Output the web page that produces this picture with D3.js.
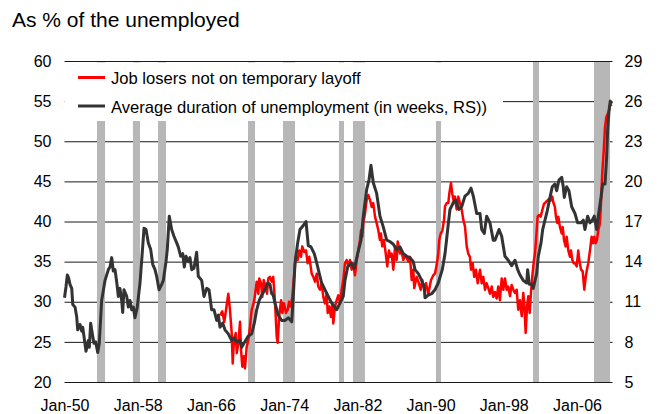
<!DOCTYPE html>
<html>
<head>
<meta charset="utf-8">
<script src="https://cdn.jsdelivr.net/npm/d3@7"></script>
<style>
body{margin:0;background:#fff;}
svg{display:block;font-family:"Liberation Sans",Arial,sans-serif;}
</style>
</head>
<body>
<svg id="fig" width="659" height="414"></svg>
<script>
// axis ticks
const xTickYears = [1950, 1958, 1966, 1974, 1982, 1990, 1998, 2006];
const leftTicks = [20, 25, 30, 35, 40, 45, 50, 55, 60];
const rightTicks = [5, 8, 11, 14, 17, 20, 23, 26, 29];

// recession periods, [start, end] in decimal years
const recessions = [
    [1953.55, 1954.43], [1957.48, 1958.25], [1960.22, 1961.09], [1970.05, 1970.82],
    [1973.88, 1975.19], [1979.99, 1980.54], [1981.52, 1982.83], [1990.59, 1991.14],
    [2001.19, 2001.85], [2007.86, 2009.61]
];

// job losers not on temporary layoff, % of unemployed (left scale)
const jobLosers = [
    [1967.00,28.3],[1967.24,28.8],[1967.46,27.5],[1967.65,29.0],[1967.90,31.0],[1968.08,29.0],[1968.27,26.1],[1968.38,22.3],
    [1968.52,25.2],[1968.71,26.1],[1968.82,23.6],[1968.99,24.8],[1969.18,27.5],[1969.29,24.0],[1969.43,21.9],[1969.58,23.2],
    [1969.72,21.7],[1969.91,24.4],[1970.08,25.2],[1970.27,26.9],[1970.45,29.0],[1970.56,29.4],[1970.74,30.2],[1970.89,31.5],
    [1971.00,32.5],[1971.18,31.0],[1971.28,32.9],[1971.47,32.3],[1971.61,30.6],[1971.77,32.7],[1971.98,31.9],[1972.13,31.0],
    [1972.27,32.9],[1972.45,33.1],[1972.64,32.5],[1972.81,33.1],[1973.00,30.0],[1973.19,25.6],[1973.30,24.9],[1973.45,28.1],
    [1973.67,30.2],[1973.80,28.6],[1973.98,29.8],[1974.20,28.6],[1974.39,29.0],[1974.53,30.0],[1974.72,29.4],[1974.89,30.6],
    [1975.08,33.1],[1975.26,35.6],[1975.48,35.2],[1975.66,36.4],[1975.84,35.6],[1975.98,36.9],[1976.20,36.2],[1976.39,36.4],
    [1976.57,34.8],[1976.75,35.6],[1977.01,33.5],[1977.19,33.1],[1977.37,32.5],[1977.56,33.5],[1977.73,31.9],[1977.92,31.5],
    [1978.10,32.3],[1978.28,30.6],[1978.46,29.8],[1978.65,31.0],[1978.76,28.6],[1978.93,29.4],[1979.12,28.1],[1979.26,29.8],
    [1979.37,27.3],[1979.56,29.4],[1979.74,30.2],[1979.92,30.8],[1980.10,29.8],[1980.29,31.5],[1980.46,32.7],[1980.65,34.8],
    [1980.83,35.2],[1981.01,34.4],[1981.19,35.2],[1981.38,34.0],[1981.56,34.8],[1981.74,33.3],[1981.93,35.2],[1982.10,36.4],
    [1982.29,37.7],[1982.40,38.9],[1982.54,38.1],[1982.65,39.8],[1982.84,41.0],[1983.02,42.7],[1983.19,43.3],[1983.38,42.7],
    [1983.57,41.8],[1983.74,42.3],[1983.93,40.6],[1984.11,39.8],[1984.29,38.9],[1984.47,37.7],[1984.58,38.5],[1984.72,36.9],
    [1984.91,37.7],[1985.10,36.0],[1985.27,34.4],[1985.46,36.4],[1985.57,35.6],[1985.75,36.0],[1985.93,34.0],[1986.12,36.9],
    [1986.30,35.2],[1986.41,37.5],[1986.66,36.0],[1986.84,36.2],[1987.02,35.2],[1987.28,35.8],[1987.57,35.0],[1987.75,35.6],
    [1987.94,32.7],[1988.11,34.0],[1988.22,31.7],[1988.48,33.1],[1988.66,32.5],[1988.92,31.5],[1989.09,32.7],[1989.31,31.5],
    [1989.50,32.3],[1989.75,31.0],[1990.05,32.7],[1990.30,33.3],[1990.48,33.5],[1990.67,34.6],[1990.84,36.0],[1990.95,37.7],
    [1991.11,38.5],[1991.28,38.8],[1991.47,40.2],[1991.58,41.9],[1991.76,42.3],[1991.94,42.3],[1992.05,43.5],[1992.23,44.8],
    [1992.37,43.5],[1992.56,42.3],[1992.67,43.1],[1992.85,41.5],[1993.03,43.1],[1993.21,42.3],[1993.40,41.5],[1993.58,40.2],
    [1993.76,39.4],[1993.95,36.9],[1994.12,36.0],[1994.30,35.6],[1994.42,34.0],[1994.60,34.8],[1994.77,33.1],[1994.96,34.0],
    [1995.15,32.3],[1995.40,34.0],[1995.59,32.3],[1995.76,33.1],[1995.95,31.5],[1996.13,32.3],[1996.31,31.7],[1996.49,31.0],
    [1996.68,31.9],[1996.85,30.6],[1997.04,31.2],[1997.22,30.4],[1997.40,31.9],[1997.58,30.2],[1997.77,32.9],[1997.95,31.5],
    [1998.13,32.9],[1998.32,31.5],[1998.49,31.9],[1998.68,30.7],[1998.86,32.1],[1999.04,31.5],[1999.22,31.1],[1999.41,31.5],
    [1999.58,29.0],[1999.77,30.2],[1999.96,28.2],[2000.13,31.1],[2000.24,29.8],[2000.39,26.1],[2000.54,29.4],[2000.68,30.7],
    [2000.83,28.6],[2000.97,31.1],[2001.11,33.1],[2001.30,35.2],[2001.41,36.0],[2001.55,38.1],[2001.70,40.6],[2001.85,40.8],
    [2002.03,40.6],[2002.21,41.4],[2002.39,42.2],[2002.58,42.4],[2002.75,42.6],[2002.94,42.8],[2003.12,42.6],[2003.30,43.1],
    [2003.41,42.4],[2003.59,41.8],[2003.70,40.6],[2003.85,39.8],[2003.96,40.6],[2004.14,39.3],[2004.33,38.5],[2004.44,39.3],
    [2004.58,37.7],[2004.76,36.9],[2004.87,38.1],[2005.05,36.4],[2005.23,35.6],[2005.34,36.4],[2005.49,35.2],[2005.64,34.8],
    [2005.78,34.8],[2005.97,34.4],[2006.14,36.4],[2006.25,35.2],[2006.44,34.0],[2006.62,33.8],[2006.80,31.5],[2006.95,33.1],
    [2007.09,34.0],[2007.23,34.8],[2007.42,36.4],[2007.60,38.1],[2007.75,37.3],[2007.89,38.1],[2008.04,37.3],[2008.18,37.7],
    [2008.33,38.9],[2008.51,39.8],[2008.62,42.2],[2008.76,46.0],[2008.92,48.8],[2009.06,51.7],[2009.20,53.0],[2009.35,53.4],
    [2009.50,53.8],[2009.64,54.6],[2009.79,54.4]
];

// average duration of unemployment, weeks (right scale)
const avgDuration = [
    [1950.00,11.3],[1950.16,12.1],[1950.31,13.0],[1950.44,12.8],[1950.60,12.3],[1950.79,12.0],[1950.90,10.8],[1951.15,10.6],
    [1951.33,9.9],[1951.44,8.9],[1951.69,9.3],[1951.88,8.8],[1951.99,9.1],[1952.13,8.4],[1952.35,7.3],[1952.60,8.1],
    [1952.71,7.6],[1952.86,9.4],[1953.04,8.6],[1953.22,7.9],[1953.41,8.0],[1953.63,7.2],[1953.80,7.9],[1954.06,11.1],
    [1954.43,12.6],[1954.79,13.4],[1954.97,13.6],[1955.16,14.3],[1955.33,13.3],[1955.52,13.4],[1955.70,12.5],[1955.88,11.4],
    [1956.06,12.0],[1956.25,11.1],[1956.36,10.2],[1956.50,11.9],[1956.80,11.4],[1956.97,10.6],[1957.16,11.1],[1957.34,10.4],
    [1957.52,10.6],[1957.70,9.8],[1957.95,10.6],[1958.25,12.4],[1958.50,14.7],[1958.69,16.5],[1958.91,16.4],[1959.16,15.4],
    [1959.42,14.9],[1959.64,13.8],[1959.89,13.4],[1960.07,12.9],[1960.33,11.9],[1960.62,12.3],[1960.80,12.6],[1961.09,14.0],
    [1961.23,14.9],[1961.45,17.4],[1961.71,16.4],[1961.96,15.9],[1962.26,15.4],[1962.43,15.1],[1962.70,14.4],[1962.92,14.6],
    [1963.09,13.6],[1963.28,14.4],[1963.53,14.0],[1963.71,14.3],[1963.90,13.4],[1964.15,13.5],[1964.44,14.7],[1964.62,12.9],
    [1964.99,12.6],[1965.24,11.4],[1965.54,12.0],[1965.79,11.9],[1966.08,10.4],[1966.34,10.4],[1966.63,9.6],[1966.81,10.0],
    [1966.99,9.1],[1967.29,9.4],[1967.54,8.9],[1967.90,8.6],[1968.27,8.1],[1968.52,8.3],[1968.82,8.0],[1969.18,8.1],
    [1969.36,7.6],[1969.61,7.9],[1970.05,8.4],[1970.45,8.6],[1970.74,9.4],[1971.00,10.4],[1971.28,11.1],[1971.55,11.5],
    [1971.91,11.9],[1972.20,12.4],[1972.45,12.3],[1972.64,11.6],[1972.81,11.5],[1973.00,10.9],[1973.36,10.0],[1973.73,9.6],
    [1974.09,9.6],[1974.45,9.8],[1974.83,9.5],[1975.00,11.4],[1975.19,13.9],[1975.48,15.4],[1975.73,16.4],[1976.09,16.7],
    [1976.39,17.0],[1976.64,15.2],[1976.93,15.1],[1977.29,14.6],[1977.56,13.9],[1977.84,13.1],[1978.10,12.4],[1978.46,11.9],
    [1978.82,11.4],[1979.20,10.9],[1979.56,10.6],[1979.74,10.4],[1980.10,10.9],[1980.46,11.4],[1980.65,12.6],[1980.94,13.6],
    [1981.30,13.9],[1981.67,13.5],[1982.04,14.6],[1982.40,15.6],[1982.65,17.4],[1983.02,19.4],[1983.27,20.1],[1983.49,21.2],
    [1983.74,19.9],[1984.11,19.1],[1984.47,17.4],[1984.83,16.6],[1985.21,15.6],[1985.57,15.5],[1985.93,15.3],[1986.30,14.9],
    [1986.66,15.1],[1987.02,14.6],[1987.39,14.4],[1987.75,14.3],[1988.11,14.0],[1988.30,13.4],[1988.66,13.1],[1989.03,12.6],
    [1989.31,12.1],[1989.39,11.3],[1989.75,11.5],[1990.12,11.6],[1990.48,11.9],[1990.84,12.4],[1991.28,13.4],[1991.58,14.6],
    [1991.87,16.4],[1992.12,17.9],[1992.48,18.4],[1992.74,18.6],[1993.11,17.9],[1993.40,18.1],[1993.76,18.9],[1994.12,19.1],
    [1994.42,19.5],[1994.67,18.9],[1995.04,17.6],[1995.40,17.6],[1995.59,16.4],[1995.87,16.1],[1996.13,17.4],[1996.49,16.9],
    [1996.85,15.6],[1997.04,15.6],[1997.48,16.4],[1997.77,15.9],[1998.13,14.4],[1998.49,14.1],[1998.86,13.7],[1999.22,14.1],
    [1999.52,13.4],[1999.77,13.0],[2000.13,12.6],[2000.50,12.4],[2000.61,13.4],[2000.79,12.3],[2001.05,12.3],[2001.22,12.0],
    [2001.59,13.1],[2001.77,14.4],[2002.07,15.4],[2002.25,16.4],[2002.50,17.1],[2002.75,17.8],[2003.05,18.8],[2003.30,19.6],
    [2003.59,19.8],[2003.78,19.3],[2004.03,20.1],[2004.33,20.3],[2004.50,19.6],[2004.61,18.8],[2004.87,19.6],[2005.12,19.3],
    [2005.42,18.1],[2005.78,17.6],[2006.07,16.9],[2006.44,16.9],[2006.69,17.1],[2006.87,16.4],[2007.17,17.4],[2007.42,16.9],
    [2007.67,17.1],[2007.89,17.4],[2008.15,16.4],[2008.33,17.4],[2008.62,18.8],[2008.81,19.8],[2009.06,19.8],[2009.24,21.8],
    [2009.35,23.8],[2009.50,25.3],[2009.64,26.0],[2009.79,25.8]
];

const legendItems = [
    {label: "Job losers not on temporary layoff", color: "#ff0000"},
    {label: "Average duration of unemployment (in weeks, RS))", color: "#333333"}
];

const svg = d3.select("#fig");
const plot = {left: 64.5, right: 612.5, top: 61, bottom: 382};
const plotWidth = plot.right - plot.left;

let xScale = d3.scaleLinear().domain([1950, 2009.88]).range([plot.left, plot.right]);
let yLeft = d3.scaleLinear().domain([20, 60]).range([plot.bottom, plot.top]);
let yRight = d3.scaleLinear().domain([5, 29]).range([plot.bottom, plot.top]);

// title
svg.append("text")
    .attr("x", 12).attr("y", 27)
    .attr("font-size", 21)
    .text("As % of the unemployed");

// horizontal gridlines
svg.append("g")
    .attr("transform", `translate(${plot.left},0)`)
    .call(d3.axisLeft(yLeft).tickValues(leftTicks).tickSize(-plotWidth).tickFormat(""))
    .call(g => g.select(".domain").remove())
    .selectAll("line").attr("stroke", "#1a1a1a");

// recession bars
svg.append("g").selectAll("rect")
    .data(recessions)
    .join("rect")
    .attr("x", d => xScale(d[0]))
    .attr("width", d => xScale(d[1]) - xScale(d[0]))
    .attr("y", plot.top + 1)
    .attr("height", plot.bottom - plot.top - 1)
    .attr("fill", "#b7b7b7");

// series
const lineLeft = d3.line().x(d => xScale(d[0])).y(d => yLeft(d[1]));
const lineRight = d3.line().x(d => xScale(d[0])).y(d => yRight(d[1]));

svg.append("path").datum(jobLosers)
    .attr("d", lineLeft)
    .attr("fill", "none").attr("stroke", "#ff0000")
    .attr("stroke-width", 2.5).attr("stroke-linejoin", "round");

svg.append("path").datum(avgDuration)
    .attr("d", lineRight)
    .attr("fill", "none").attr("stroke", "#333333")
    .attr("stroke-width", 3).attr("stroke-linejoin", "round");

// legend box hides what is behind it
svg.append("rect")
    .attr("x", plot.left).attr("y", plot.top + 1.5)
    .attr("width", 503 - plot.left).attr("height", 121 - plot.top - 1.5)
    .attr("fill", "#fff");

let legend = svg.append("g").selectAll("g")
    .data(legendItems)
    .join("g")
    .attr("transform", (d, i) => `translate(78,${77.5 + i * 28.5})`);
legend.append("line")
    .attr("x1", 0).attr("x2", 27)
    .attr("stroke", d => d.color).attr("stroke-width", 3);
legend.append("text")
    .attr("x", 33).attr("y", 6.5)
    .attr("font-size", 16.6)
    .text(d => d.label);

// axis labels
svg.append("g")
    .attr("transform", `translate(${plot.left},0)`)
    .call(d3.axisLeft(yLeft).tickValues(leftTicks).tickSize(0).tickPadding(13))
    .call(g => g.select(".domain").remove())
    .selectAll("text").attr("font-size", 16).attr("fill", "#000").attr("font-family", null);

svg.append("g")
    .attr("transform", `translate(${plot.right},0)`)
    .call(d3.axisRight(yRight).tickValues(rightTicks).tickSize(0).tickPadding(12))
    .call(g => g.select(".domain").remove())
    .selectAll("text").attr("font-size", 16).attr("fill", "#000").attr("font-family", null);

svg.append("g")
    .attr("transform", `translate(0,${plot.bottom})`)
    .call(d3.axisBottom(xScale).tickValues(xTickYears).tickSize(0).tickPadding(17.5)
        .tickFormat(y => "Jan-" + String(y).slice(2)))
    .call(g => g.select(".domain").remove())
    .selectAll("text").attr("font-size", 16).attr("fill", "#000").attr("font-family", null);
</script>
</body>
</html>
